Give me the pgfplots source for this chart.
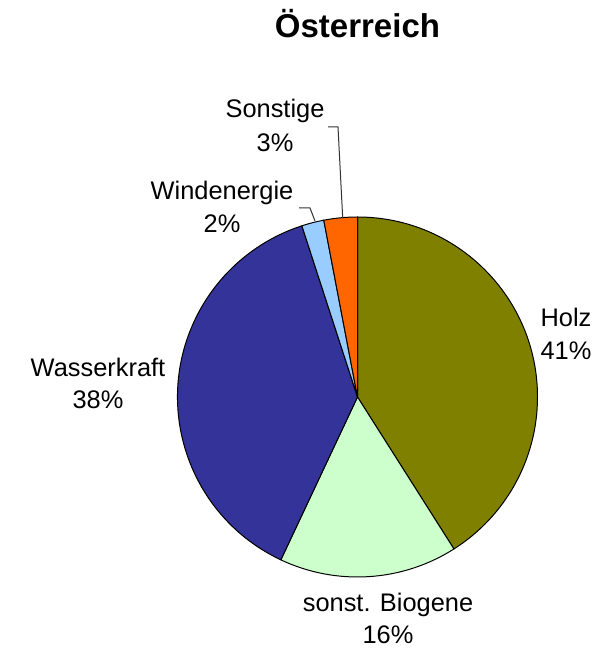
\documentclass[border=0pt]{standalone}
\usepackage{pgfplots}
\usepackage{pgfplotstable}
\pgfplotsset{compat=1.18}
\usepackage{fontspec}
\setmainfont{Liberation Sans}
\definecolor{cHolz}{HTML}{808000}
\definecolor{cBio}{HTML}{CCFFCC}
\definecolor{cWasser}{HTML}{333399}
\definecolor{cWind}{HTML}{99CCFF}
\definecolor{cSonst}{HTML}{FF6600}

\pgfplotstableread[col sep=comma]{
name,value,color
Holz,41,cHolz
sonst. Biogene,16,cBio
Wasserkraft,38,cWasser
Windenergie,2,cWind
Sonstige,3,cSonst
}\piedata

\begin{document}
\begin{tikzpicture}
% cumulative angles (clockwise from 12 o'clock)
\gdef\cum{0}
\foreach \i in {0,...,4}{%
  \pgfplotstablegetelem{\i}{value}\of\piedata
  \let\v\pgfplotsretval
  \pgfplotstablegetelem{\i}{color}\of\piedata
  \expandafter\xdef\csname pc\i\endcsname{\pgfplotsretval}%
  \pgfmathsetmacro\s{90-3.6*\cum}%
  \pgfmathsetmacro\e{90-3.6*(\cum+\v)}%
  \expandafter\xdef\csname ps\i\endcsname{\s}%
  \expandafter\xdef\csname pe\i\endcsname{\e}%
  \pgfmathsetmacro\nc{\cum+\v}%
  \xdef\cum{\nc}%
}
\begin{axis}[
  width=303pt, height=324pt, scale only axis,
  xmin=0, xmax=606, ymin=0, ymax=648,
  hide axis, clip=false,
]
\path (rel axis cs:0,0) rectangle (rel axis cs:1,1);
\pgfplotsinvokeforeach{0,...,4}{%
  \fill[fill=\csname pc#1\endcsname, draw=black, line width=0.5pt, line join=round]
    (axis cs:357.5,251) -- ++(\csname ps#1\endcsname:90pt)
    arc[start angle=\csname ps#1\endcsname, end angle=\csname pe#1\endcsname, radius=90pt] -- cycle;
}
% leader lines
\draw[black!80, line width=0.5pt] (axis cs:328,521) -- (axis cs:338,521) -- (axis cs:342.7,430);
\draw[black!80, line width=0.5pt] (axis cs:299,440) -- (axis cs:310,440) -- (axis cs:315,427);
% title
\node[anchor=base, inner sep=0pt, font=\fontsize{16.5pt}{20pt}\selectfont\bfseries] at (axis cs:357.5,610) {Österreich};
% labels
\tikzset{lbl/.style={anchor=base, inner sep=0pt, font=\fontsize{12.7pt}{15pt}\selectfont}}
\node[lbl] at (axis cs:566,321) {Holz};
\node[lbl] at (axis cs:566,288) {41\%};
\node[lbl] at (axis cs:388,36) {sonst. Biogene};
\node[lbl] at (axis cs:388,4) {16\%};
\node[lbl] at (axis cs:98,271) {Wasserkraft};
\node[lbl] at (axis cs:98,239) {38\%};
\node[lbl] at (axis cs:222,448) {Windenergie};
\node[lbl] at (axis cs:222,415) {2\%};
\node[lbl] at (axis cs:275,530) {Sonstige};
\node[lbl] at (axis cs:275,496) {3\%};
\end{axis}
\end{tikzpicture}
\end{document}
